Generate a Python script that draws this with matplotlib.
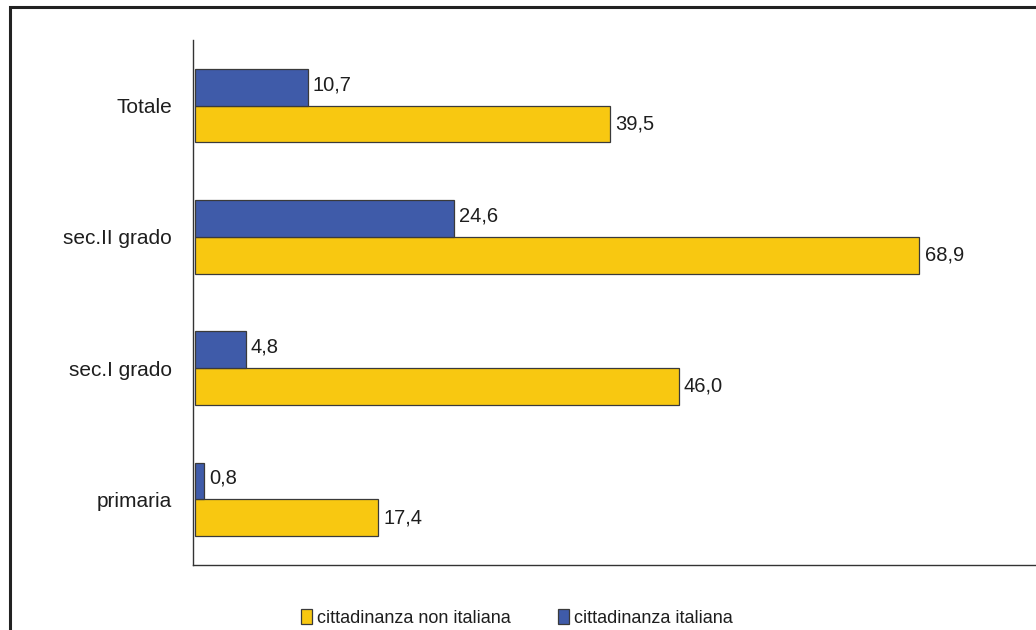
import matplotlib
matplotlib.use("Agg")
import matplotlib.pyplot as plt
from matplotlib.patches import Rectangle
import numpy as np

plt.rcParams['font.family'] = ['Liberation Sans', 'DejaVu Sans']

# Data (top to bottom in the chart)
categories = ['Totale', 'sec.II grado', 'sec.I grado', 'primaria']
non_italiana = [39.5, 68.9, 46.0, 17.4]
italiana = [10.7, 24.6, 4.8, 0.8]
labels_non = ['39,5', '68,9', '46,0', '17,4']
labels_ita = ['10,7', '24,6', '4,8', '0,8']

yellow = '#F8C811'
blue = '#3F5BA9'
edge = '#3a3a3a'
text_col = '#1e1e1e'

fig = plt.figure(figsize=(10.36, 6.3), dpi=100)
ax = fig.add_axes([193 / 1036, 1 - 565 / 630, 1 - 193 / 1036, (565 - 40) / 630])

# outer frame (cut by the image on right and bottom)
fig.patches.append(Rectangle((9.5 / 1036, -0.1), 1.2, 1 - 7.5 / 630 + 0.1,
                             transform=fig.transFigure, fill=False,
                             edgecolor='#222222', linewidth=2.2))

y = np.arange(len(categories))[::-1]
h = 0.28
b1 = ax.barh(y - h / 2, non_italiana, height=h, color=yellow, edgecolor=edge,
             linewidth=0.9, label='cittadinanza non italiana')
b2 = ax.barh(y + h / 2, italiana, height=h, color=blue, edgecolor=edge,
             linewidth=0.9, label='cittadinanza italiana')

for rect, lab in zip(b1, labels_non):
    ax.text(rect.get_width() + 0.5, rect.get_y() + rect.get_height() / 2, lab,
            va='center', ha='left', fontsize=14.5, color=text_col)
for rect, lab in zip(b2, labels_ita):
    ax.text(rect.get_width() + 0.5, rect.get_y() + rect.get_height() / 2 + 0.02, lab,
            va='center', ha='left', fontsize=14.5, color=text_col)

ax.set_xlim(-0.2, 80)
ax.set_ylim(-0.5, 3.5)
ax.set_yticks(y)
ax.set_yticklabels(categories, fontsize=15, color=text_col)
ax.tick_params(axis='y', length=0, pad=15)
ax.set_xticks([])
for s in ['top', 'right']:
    ax.spines[s].set_visible(False)
for s in ['left', 'bottom']:
    ax.spines[s].set_color('#333333')
    ax.spines[s].set_linewidth(1.0)

fig.legend(handles=[b1, b2], loc='center', bbox_to_anchor=(0.499, 1 - 618 / 630),
           ncol=2, frameon=False, fontsize=13, handlelength=0.6, handleheight=0.9,
           handletextpad=0.3, columnspacing=2.6, labelcolor=text_col)

fig.savefig('out.png', dpi=100)
